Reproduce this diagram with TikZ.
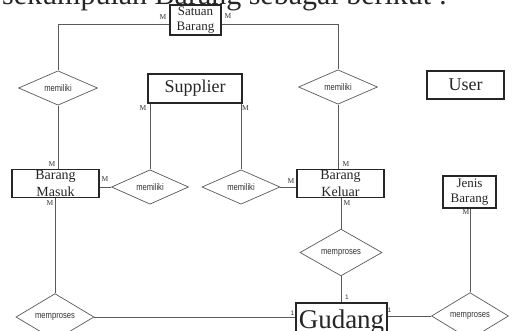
\documentclass[tikz,border=0pt]{standalone}
\usepackage{fontspec}
\setmainfont{Liberation Serif}
\newfontfamily\narrowsans[FakeStretch=0.8]{Liberation Sans}
\newfontfamily\plainsans{Liberation Sans}
\usetikzlibrary{shapes.geometric}
\definecolor{lngray}{HTML}{5A5A5A}
\definecolor{txgray}{HTML}{333333}
\tikzset{
  entity/.style={draw=black!85, line width=1.2pt, inner sep=0pt, align=center, font=\fontsize{13}{15.5}\selectfont, text=black!85, fill=white},
  bigentity/.style={entity, font=\fontsize{18}{20}\selectfont},
  relation/.style={diamond, draw=lngray, line width=0.7pt, inner sep=0pt, text=txgray, font=\narrowsans\fontsize{9.5}{10}\selectfont},
  conn/.style={draw=lngray, line width=0.8pt},
  card/.style={inner sep=0pt, text=txgray, font=\fontsize{7.5}{8}\selectfont},
  one/.style={inner sep=0pt, text=txgray, font=\plainsans\fontsize{6.5}{7}\selectfont}
}
\begin{document}
\begin{tikzpicture}[x=1pt,y=-1pt]
\useasboundingbox (0,0) rectangle (514,331);
\clip (0,0) rectangle (514,331);
\fill[white] (0,0) rectangle (514,331);
% clipped line of text at top
\node[anchor=base west, inner sep=0pt, font=\fontsize{30}{32}\selectfont, text=black!85] (toptext) at (2,4.5) {sekumpulan Barang sebagai berikut :};
% entities
\node[entity, minimum width=51pt, minimum height=30pt] (sat) at (195.5,20) {Satuan\\Barang};
\node[bigentity, minimum width=94pt, minimum height=29pt] (sup) at (195,88.5) {Supplier};
\node[bigentity, minimum width=77pt, minimum height=28pt] (user) at (465.5,85) {User};
\node[entity, minimum width=87pt, minimum height=28pt, font=\fontsize{14}{16.5}\selectfont] (bm) at (55.5,183.5) {Barang\\Masuk};
\node[entity, minimum width=87pt, minimum height=28pt, font=\fontsize{14}{16.5}\selectfont] (bk) at (340.5,183.5) {Barang\\Keluar};
\node[entity, minimum width=53pt, minimum height=32pt] (jb) at (469.5,192) {Jenis\\Barang};
\node[entity, minimum width=91pt, minimum height=38pt, font=\fontsize{27}{29}\selectfont] (gd) at (341.5,322) {Gudang};
% relations
\node[relation, minimum width=79pt, minimum height=30pt] (mem1) at (58,88) {memiliki};
\node[relation, minimum width=79pt, minimum height=30pt] (mem2) at (338,87) {memiliki};
\node[relation, minimum width=77pt, minimum height=29pt] (mem3) at (150,187) {memiliki};
\node[relation, minimum width=78pt, minimum height=29pt] (mem4) at (241,187) {memiliki};
\node[relation, minimum width=82pt, minimum height=31pt] (mp1) at (341,252.5) {memproses};
\node[relation, minimum width=78pt, minimum height=30pt] (mp2) at (55,317) {memproses};
\node[relation, minimum width=77pt, minimum height=30pt] (mp3) at (470,316) {memproses};
% connectors
\draw[conn] ([yshift=-4pt]sat.west) -| (mem1.north);
\draw[conn] ([yshift=-4pt]sat.east) -| (mem2.north);
\draw[conn] (mem1.south) -- (mem1.south |- bm.north);
\draw[conn] (mem2.south) -- (mem2.south |- bk.north);
\draw[conn] (mem3.north |- sup.south) -- (mem3.north);
\draw[conn] (mem4.north |- sup.south) -- (mem4.north);
\draw[conn] (mem3.west) -- (mem3.west -| bm.east);
\draw[conn] (mem4.east) -- (mem4.east -| bk.west);
\draw[conn] (mp2.north |- bm.south) -- (mp2.north);
\draw[conn] (mp2.east) -- (mp2.east -| gd.west);
\draw[conn] (mp1.north |- bk.south) -- (mp1.north);
\draw[conn] (mp1.south) -- (mp1.south |- gd.north);
\draw[conn] (mp3.west) -- (mp3.west -| gd.east);
\draw[conn] (mp3.north |- jb.south) -- (mp3.north);
% cardinalities
\node[card] (c1) at (163,17) {M};
\node[card] (c2) at (228,16) {M};
\node[card] (c3) at (143,108) {M};
\node[card] (c4) at (245.5,108) {M};
\node[card] (c5) at (52,164) {M};
\node[card] (c6) at (50,203) {M};
\node[card] (c7) at (105,179) {M};
\node[card] (c8) at (291,181) {M};
\node[card] (c9) at (346,164) {M};
\node[card] (c10) at (347,203) {M};
\node[card] (c11) at (466,212) {M};
\node[one] (o1) at (347,297) {1};
\node[one] (o2) at (292.5,313) {1};
\node[one] (o3) at (389.5,310) {1};
\end{tikzpicture}
\end{document}
